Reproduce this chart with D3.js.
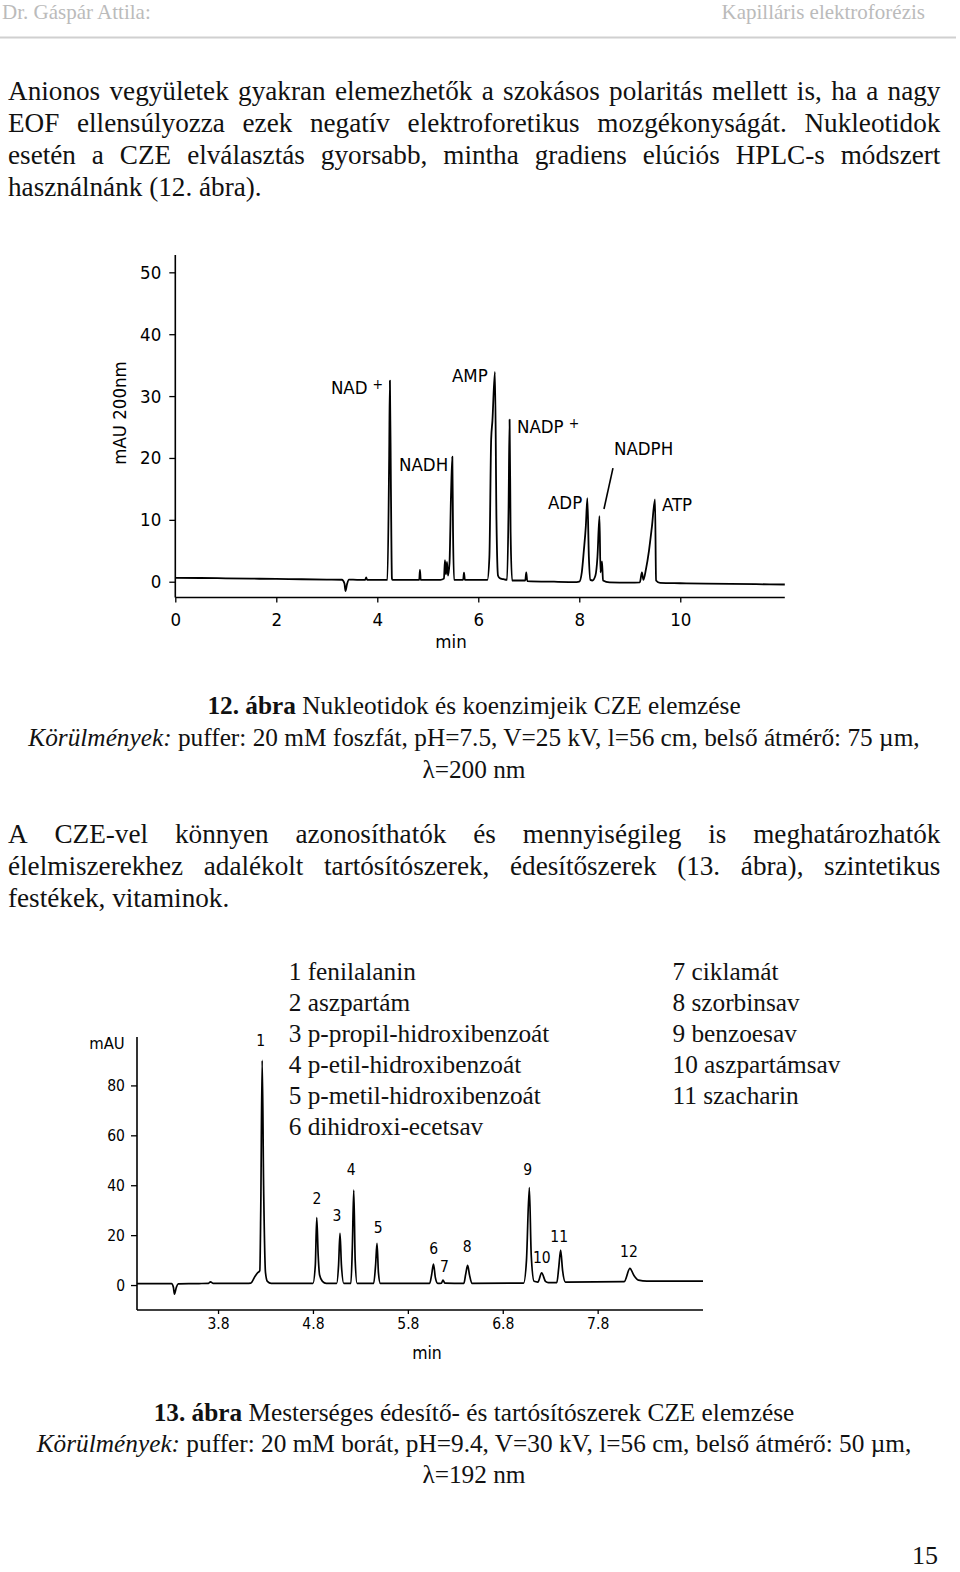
<!DOCTYPE html>
<html><head><meta charset="utf-8">
<script src="https://cdn.jsdelivr.net/npm/d3@7"></script>
<style>html,body{margin:0;padding:0;background:#fff;} svg{display:block;}</style>
</head><body>
<svg id="page" width="960" height="1572"></svg>
<script>
// ---------------- DATA ----------------
const headerLeft = "Dr. Gáspár Attila:";
const headerRight = "Kapilláris elektroforézis";
const para1 = [
  "Anionos vegyületek gyakran elemezhetők a szokásos polaritás mellett is, ha a nagy",
  "EOF ellensúlyozza ezek negatív elektroforetikus mozgékonyságát. Nukleotidok",
  "esetén a CZE elválasztás gyorsabb, mintha gradiens elúciós HPLC-s módszert",
  "használnánk (12. ábra)."
];
const para2 = [
  "A CZE-vel könnyen azonosíthatók és mennyiségileg is meghatározhatók",
  "élelmiszerekhez adalékolt tartósítószerek, édesítőszerek (13. ábra), szintetikus",
  "festékek, vitaminok."
];
const caption12 = [
  [["12. ábra","b"],[" Nukleotidok és koenzimjeik CZE elemzése",""]],
  [["Körülmények:","i"],[" puffer: 20 mM foszfát, pH=7.5, V=25 kV, l=56 cm, belső átmérő: 75 µm,",""]],
  [["λ=200 nm",""]]
];
const caption13 = [
  [["13. ábra","b"],[" Mesterséges édesítő- és tartósítószerek CZE elemzése",""]],
  [["Körülmények:","i"],[" puffer: 20 mM borát, pH=9.4, V=30 kV, l=56 cm, belső átmérő: 50 µm,",""]],
  [["λ=192 nm",""]]
];
const legendLeft = ["1 fenilalanin","2 aszpartám","3 p-propil-hidroxibenzoát","4 p-etil-hidroxibenzoát","5 p-metil-hidroxibenzoát","6 dihidroxi-ecetsav"];
const legendRight = ["7 ciklamát","8 szorbinsav","9 benzoesav","10 aszpartámsav","11 szacharin"];
const pageNumber = "15";

// Chart 1 (12. ábra): time (min) and absorbance (mAU)
const c1Time = [0,0.5,1,1.5,2,2.5,3,3.3,3.35,3.37,3.4,3.44,3.6,3.76,3.78,3.8,4.0,4.2,4.235,4.25,4.27,4.29,4.3,4.6,4.83,4.845,4.86,5.25,5.32,5.34,5.36,5.38,5.40,5.43,5.46,5.486,5.50,5.52,5.70,5.717,5.735,6.18,6.22,6.255,6.28,6.33,6.36,6.39,6.42,6.50,6.57,6.60,6.62,6.64,6.67,6.93,6.95,6.97,7.5,7.95,8.0,8.05,8.09,8.13,8.16,8.19,8.22,8.26,8.32,8.36,8.40,8.42,8.45,8.47,8.6,9.0,9.2,9.24,9.27,9.32,9.38,9.44,9.50,9.52,9.6,10,10.5,11,11.5,12.07];
const c1Signal = [0.62,0.6,0.55,0.5,0.45,0.4,0.35,0.32,-0.3,-1.5,-0.4,0.35,0.3,0.3,0.7,0.3,0.3,0.3,20,32.5,15,0.5,0.3,0.3,0.3,1.9,0.3,0.3,0.5,3.5,1.2,3.2,1.0,3,14,20.2,8,0.3,0.3,1.45,0.3,0.3,4,23,26,33.9,10,1.0,0.6,0.4,0.3,12,26.2,8,0.2,0.2,1.5,0.1,0.0,-0.05,0.0,1.5,5,9,13.5,4,0.3,0.2,1.0,4,10.6,1.5,3.3,0.2,-0.1,-0.15,-0.1,1.5,0.3,2,5,9,13.3,0.2,-0.2,-0.25,-0.3,-0.35,-0.4,-0.45];
const c1XTicks = [0,2,4,6,8,10];
const c1YTicks = [0,10,20,30,40,50];
const c1YLabel = "mAU 200nm";
const c1XLabel = "min";
// peak names with label anchor (t, mAU)
const c1Names = ["NAD","NADH","AMP","NADP","NADPH","ADP","ATP"];
const c1Sup   = ["+","","","+","","",""];
const c1LabT  = [3.081,4.430,5.479,6.766,8.687,7.380,9.638];
const c1LabV  = [30.33,17.89,32.27,24.03,20.47,11.75,11.42];
const c1PointerT = [8.667,8.489];
const c1PointerV = [18.37,11.75];

// Chart 2 (13. ábra)
const c2Time = [2.946,3.2,3.31,3.33,3.34,3.36,3.38,3.6,3.70,3.72,3.75,4.10,4.145,4.19,4.215,4.24,4.25,4.265,4.28,4.30,4.32,4.36,4.80,4.825,4.84,4.855,4.87,4.9,4.94,5.05,5.07,5.085,5.10,5.125,5.20,5.215,5.23,5.245,5.265,5.44,5.46,5.475,5.49,5.51,6.03,6.05,6.07,6.09,6.115,6.155,6.17,6.19,6.39,6.41,6.43,6.45,6.475,7.02,7.05,7.08,7.10,7.13,7.17,7.21,7.25,7.28,7.37,7.39,7.41,7.43,7.46,8.08,8.14,8.18,8.23,8.32,8.6,8.91];
const c2Signal = [0.6,0.6,0.55,-1,-3.6,-1,0.5,0.6,0.7,1.3,0.7,0.7,0.8,3.5,4.8,5.8,30,90,40,5,1.5,0.7,0.7,8,27,12,4,1.5,0.7,0.7,8,20.7,8,0.7,0.7,15,38,10,0.7,0.7,8,16.7,5,0.7,0.7,4,8.4,3,0.7,0.8,2.0,0.8,0.7,4.5,7.9,4,0.7,0.8,10,39,12,1.5,1.2,4.9,1.5,1.0,1.0,7,14,6,1.2,1.4,6.7,4.0,2.0,1.6,1.6,1.6];
const c2XTicks = [3.8,4.8,5.8,6.8,7.8];
const c2YTicks = [0,20,40,60,80];
const c2YLabel = "mAU";
const c2XLabel = "min";
const c2Names = ["1","2","3","4","5","6","7","8","9","10","11","12"];
const c2LabT  = [4.250,4.842,5.054,5.202,5.487,6.072,6.186,6.425,7.063,7.211,7.395,8.130];
const c2LabV  = [97.95,34.5,27.7,46.1,22.9,14.7,7.6,15.4,46.1,11.2,19.4,13.6];

// ---------------- DRAW ----------------
const svg = d3.select("#page");
const SERIF = "'Liberation Serif','Times New Roman',serif";
const NARROW = "'Liberation Sans Narrow','Arial Narrow','DejaVu Sans Condensed',sans-serif";
const INK = "#111";

// header
svg.append("text").attr("x",2).attr("y",19).attr("font-family",SERIF).attr("font-size",21)
  .attr("fill","#bbbbbb").text(headerLeft);
svg.append("text").attr("x",925).attr("y",19).attr("text-anchor","end").attr("font-family",SERIF)
  .attr("font-size",21).attr("fill","#bbbbbb").text(headerRight);
svg.append("line").attr("x1",0).attr("x2",956).attr("y1",37.5).attr("y2",37.5)
  .attr("stroke","#d0d0d0").attr("stroke-width",2);

function paragraph(lines, y0, step) {
  const g = svg.append("g").attr("font-family",SERIF).attr("font-size",27.2).attr("fill",INK);
  lines.forEach((line,i) => {
    const y = y0 + i*step;
    const justify = i < lines.length-1;
    if (!justify) { g.append("text").attr("x",8).attr("y",y).text(line); return; }
    const words = line.split(" ");
    const nodes = words.map(w => g.append("text").attr("y",y).text(w));
    const widths = nodes.map(n => n.node().getComputedTextLength());
    const gap = (940.4 - 8 - d3.sum(widths))/(words.length-1);
    let x = 8;
    nodes.forEach((n,k) => { n.attr("x",x); x += widths[k] + gap; });
  });
}
paragraph(para1, 99.5, 32.3);
paragraph(para2, 842.5, 32.1);

function caption(lines, y0, step) {
  const g = svg.append("g").attr("font-family",SERIF).attr("font-size",25.3).attr("fill",INK);
  lines.forEach((parts,i) => {
    const t = g.append("text").attr("x",474).attr("y",y0+i*step).attr("text-anchor","middle");
    parts.forEach(p => {
      const s = t.append("tspan").text(p[0]);
      if (p[1]==="b") s.attr("font-weight","bold");
      if (p[1]==="i") s.attr("font-style","italic");
    });
  });
}
caption(caption12, 714.3, 31.6);
caption(caption13, 1421.2, 31.0);

// legend
const lg = svg.append("g").attr("font-family",SERIF).attr("font-size",25.3).attr("fill",INK);
legendLeft.forEach((d,i)=> lg.append("text").attr("x",288.7).attr("y",980+i*30.9).text(d));
legendRight.forEach((d,i)=> lg.append("text").attr("x",672.5).attr("y",980+i*30.9).text(d));

svg.append("text").attr("x",938).attr("y",1564).attr("text-anchor","end").attr("font-family",SERIF)
  .attr("font-size",26).attr("fill",INK).text(pageNumber);

// ---------- Chart 1 ----------
const x1 = d3.scaleLinear().domain([0,12.07]).range([175.3,784.8]);
const y1 = d3.scaleLinear().domain([-2.55,52.8]).range([597.5,255]);
const g1 = svg.append("g");
g1.append("line").attr("x1",x1(0)).attr("x2",x1(0)).attr("y1",y1(52.8)).attr("y2",y1(-2.55))
  .attr("stroke","#000").attr("stroke-width",1.6);
const ya1 = g1.append("g").attr("transform",`translate(${x1(0)},0)`)
  .call(d3.axisLeft(y1).tickValues(c1YTicks).tickSize(6).tickPadding(8).tickFormat(d3.format("d")));
const xa1 = g1.append("g").attr("transform",`translate(0,${y1(-2.55)})`)
  .call(d3.axisBottom(x1).tickValues(c1XTicks).tickSize(5).tickPadding(10).tickFormat(d3.format("d")));
[ya1,xa1].forEach(a => {
  a.selectAll("text").attr("font-family",NARROW).attr("font-size",18.5).attr("fill","#000");
  a.selectAll("line").attr("stroke","#000").attr("stroke-width",1.3);
  a.select(".domain").attr("stroke","#000").attr("stroke-width",1.6);
});
ya1.select(".domain").remove();
xa1.select(".domain").attr("d",`M${x1(0)},0H${x1(12.07)}`);

const line1 = d3.line().x(d=>x1(d[0])).y(d=>y1(d[1])).curve(d3.curveMonotoneX);
g1.append("path").datum(c1Time.map((t,i)=>[t,c1Signal[i]])).attr("d",line1)
  .attr("fill","none").attr("stroke","#000").attr("stroke-width",1.8).attr("stroke-linejoin","round");

c1Names.forEach((n,i) => {
  const t = g1.append("text").attr("x",x1(c1LabT[i])).attr("y",y1(c1LabV[i]))
    .attr("font-family",NARROW).attr("font-size",18.5).attr("fill","#000").text(n);
  if (c1Sup[i]) t.append("tspan").attr("dx",5).attr("dy",-5).attr("font-size",14).text(c1Sup[i]);
});
g1.append("line").attr("x1",x1(c1PointerT[0])).attr("y1",y1(c1PointerV[0]))
  .attr("x2",x1(c1PointerT[1])).attr("y2",y1(c1PointerV[1])).attr("stroke","#000").attr("stroke-width",1.6);
g1.append("text").attr("transform",`translate(120,413) rotate(-90)`).attr("text-anchor","middle")
  .attr("dy","0.35em").attr("font-family",NARROW).attr("font-size",18.5).attr("fill","#000").text(c1YLabel);
g1.append("text").attr("x",451).attr("y",641.7).attr("dy","0.35em").attr("text-anchor","middle")
  .attr("font-family",NARROW).attr("font-size",18.5).attr("fill","#000").text(c1XLabel);

// ---------- Chart 2 ----------
const x2 = d3.scaleLinear().domain([2.946,8.91]).range([137,703]);
const y2 = d3.scaleLinear().domain([-10,99.4]).range([1310,1037]);
const g2 = svg.append("g");
g2.append("line").attr("x1",x2(2.946)).attr("x2",x2(2.946)).attr("y1",y2(99.4)).attr("y2",y2(-10))
  .attr("stroke","#000").attr("stroke-width",1.6);
const ya2 = g2.append("g").attr("transform",`translate(${x2(2.946)},0)`)
  .call(d3.axisLeft(y2).tickValues(c2YTicks).tickSize(6).tickPadding(6).tickFormat(d3.format("d")));
const xa2 = g2.append("g").attr("transform",`translate(0,${y2(-10)})`)
  .call(d3.axisBottom(x2).tickValues(c2XTicks).tickSize(4).tickPadding(4).tickFormat(d3.format(".1f")));
[ya2,xa2].forEach(a => {
  a.selectAll("text").attr("font-family",NARROW).attr("font-size",15.5).attr("fill","#000");
  a.selectAll("line").attr("stroke","#000").attr("stroke-width",1.3);
  a.select(".domain").attr("stroke","#000").attr("stroke-width",1.6);
});
ya2.select(".domain").remove();
xa2.select(".domain").attr("d",`M${x2(2.946)},0H${x2(8.91)}`);

const line2 = d3.line().x(d=>x2(d[0])).y(d=>y2(d[1])).curve(d3.curveMonotoneX);
g2.append("path").datum(c2Time.map((t,i)=>[t,c2Signal[i]])).attr("d",line2)
  .attr("fill","none").attr("stroke","#000").attr("stroke-width",1.7).attr("stroke-linejoin","round");

c2Names.forEach((n,i) => {
  g2.append("text").attr("x",x2(c2LabT[i])).attr("y",y2(c2LabV[i])).attr("dy","0.35em")
    .attr("text-anchor","middle").attr("font-family",NARROW).attr("font-size",15.5).attr("fill","#000").text(n);
});
g2.append("text").attr("x",107).attr("y",1043).attr("dy","0.35em").attr("text-anchor","middle")
  .attr("font-family",NARROW).attr("font-size",16.5).attr("fill","#000").text(c2YLabel);
g2.append("text").attr("x",427).attr("y",1352.5).attr("dy","0.35em").attr("text-anchor","middle")
  .attr("font-family",NARROW).attr("font-size",17.5).attr("fill","#000").text(c2XLabel);
</script>
</body></html>
